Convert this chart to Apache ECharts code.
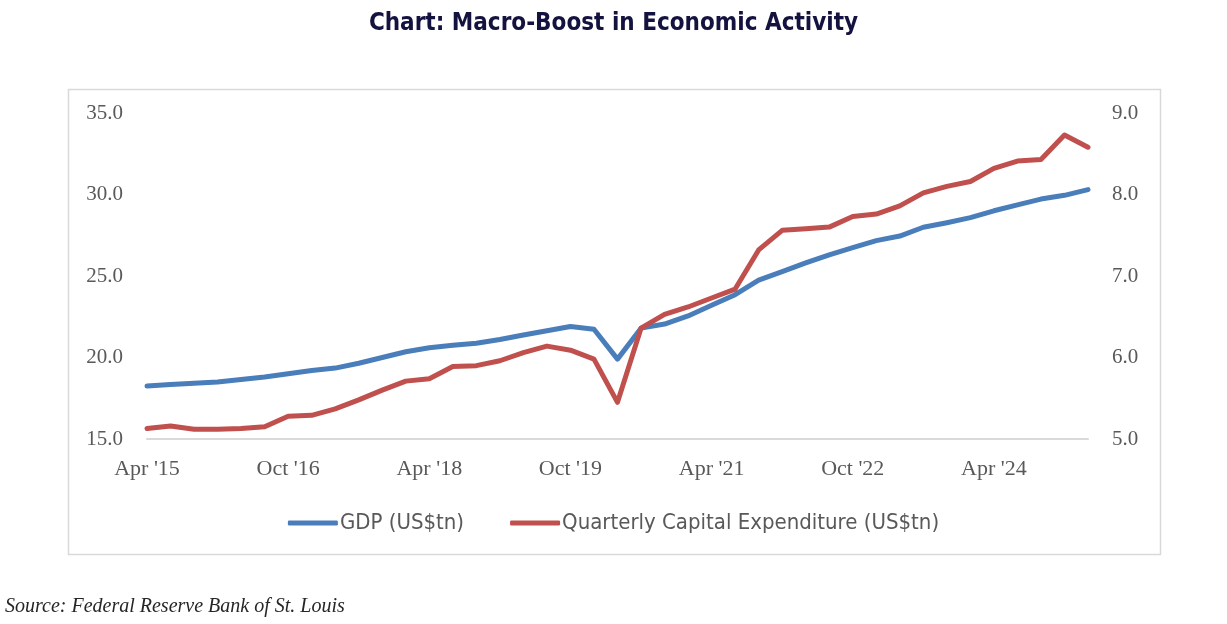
<!DOCTYPE html>
<html>
<head>
<meta charset="utf-8">
<script src="https://cdn.jsdelivr.net/npm/echarts@6/dist/echarts.min.js"></script>
<style>
html,body{margin:0;padding:0;background:#fff;}
#c{width:1227px;height:624px;}
</style>
</head>
<body>
<div id="c"></div>
<script>
const categories = [
 "Apr '15","Jul '15","Oct '15","Jan '16","Apr '16","Jul '16","Oct '16","Jan '17","Apr '17","Jul '17",
 "Oct '17","Jan '18","Apr '18","Jul '18","Oct '18","Jan '19","Apr '19","Jul '19","Oct '19","Jan '20",
 "Apr '20","Jul '20","Oct '20","Jan '21","Apr '21","Jul '21","Oct '21","Jan '22","Apr '22","Jul '22",
 "Oct '22","Jan '23","Apr '23","Jul '23","Oct '23","Jan '24","Apr '24","Jul '24","Oct '24","Jan '25","Apr '25"
];
const gdp = [
 18.25,18.35,18.42,18.5,18.65,18.8,19.0,19.2,19.35,19.65,
 20.0,20.35,20.6,20.75,20.87,21.1,21.38,21.64,21.9,21.73,
 19.9,21.8,22.05,22.55,23.2,23.85,24.75,25.27,25.8,26.3,
 26.74,27.17,27.45,27.99,28.27,28.58,29.0,29.36,29.72,29.95,30.3
];
const capex = [
 5.13,5.16,5.12,5.12,5.13,5.15,5.28,5.29,5.37,5.48,
 5.6,5.71,5.74,5.89,5.9,5.96,6.06,6.14,6.09,5.98,
 5.45,6.36,6.53,6.62,6.73,6.84,7.32,7.56,7.58,7.6,
 7.73,7.76,7.86,8.02,8.1,8.16,8.32,8.41,8.43,8.73,8.58
];
const seriesNames = ["GDP (US$tn)","Quarterly Capital Expenditure (US$tn)"];
const titleText = "Chart: Macro-Boost in Economic Activity";
const sourceText = "Source: Federal Reserve Bank of St. Louis";

const chart = echarts.init(document.getElementById('c'));
const serif = "'Liberation Serif', 'DejaVu Serif', serif";
chart.setOption({
  animation:false,
  backgroundColor:'#fff',
  title:{
    text:titleText, left:'center', top:7,
    textStyle:{fontFamily:"'Liberation Sans Narrow','DejaVu Sans Condensed',Roboto,sans-serif",fontWeight:'bold',fontSize:24,color:'#14123f'}
  },
  graphic:[
    {type:'rect',left:66,top:87,shape:{width:1092,height:465},style:{fill:'none',stroke:'#d9d9d9',lineWidth:1.5},z:-1},
    {type:'text',left:5,top:597,style:{text:sourceText,font:"italic 20px 'Liberation Serif', serif",fill:'#262626'}}
  ],
  legend:{
    data:seriesNames, left:'center', top:507,
    icon:'roundRect', itemWidth:50, itemHeight:5, itemGap:46,
    textStyle:{fontFamily:"'Liberation Sans Narrow','DejaVu Sans Condensed','Liberation Sans',sans-serif",fontSize:22,color:'#595959',padding:[0,0,0,-3]}
  },
  grid:{left:147,right:139,top:113,bottom:185,containLabel:false},
  xAxis:{
    type:'category', data:categories, boundaryGap:false,
    axisLine:{lineStyle:{color:'#d9d9d9',width:2}},
    axisTick:{show:false},
    axisLabel:{interval:5,margin:19,fontFamily:serif,fontSize:22,color:'#595959'},
    splitLine:{show:false}
  },
  yAxis:[
    {type:'value',min:15,max:35,interval:5,
     axisLine:{show:false},axisTick:{show:false},splitLine:{show:false},
     axisLabel:{margin:24,fontFamily:serif,fontSize:21,color:'#595959',formatter:v=>v.toFixed(1)}},
    {type:'value',min:5,max:9,interval:1,position:'right',
     axisLine:{show:false},axisTick:{show:false},splitLine:{show:false},
     axisLabel:{margin:24,fontFamily:serif,fontSize:21,color:'#595959',formatter:v=>v.toFixed(1)}}
  ],
  series:[
    {name:seriesNames[0],type:'line',data:gdp,yAxisIndex:0,symbol:'none',
     lineStyle:{color:'#4a7ebb',width:5,cap:'round',join:'round'},itemStyle:{color:'#4a7ebb'}},
    {name:seriesNames[1],type:'line',data:capex,yAxisIndex:1,symbol:'none',
     lineStyle:{color:'#c0504d',width:5,cap:'round',join:'round'},itemStyle:{color:'#c0504d'}}
  ]
});
</script>
</body>
</html>
